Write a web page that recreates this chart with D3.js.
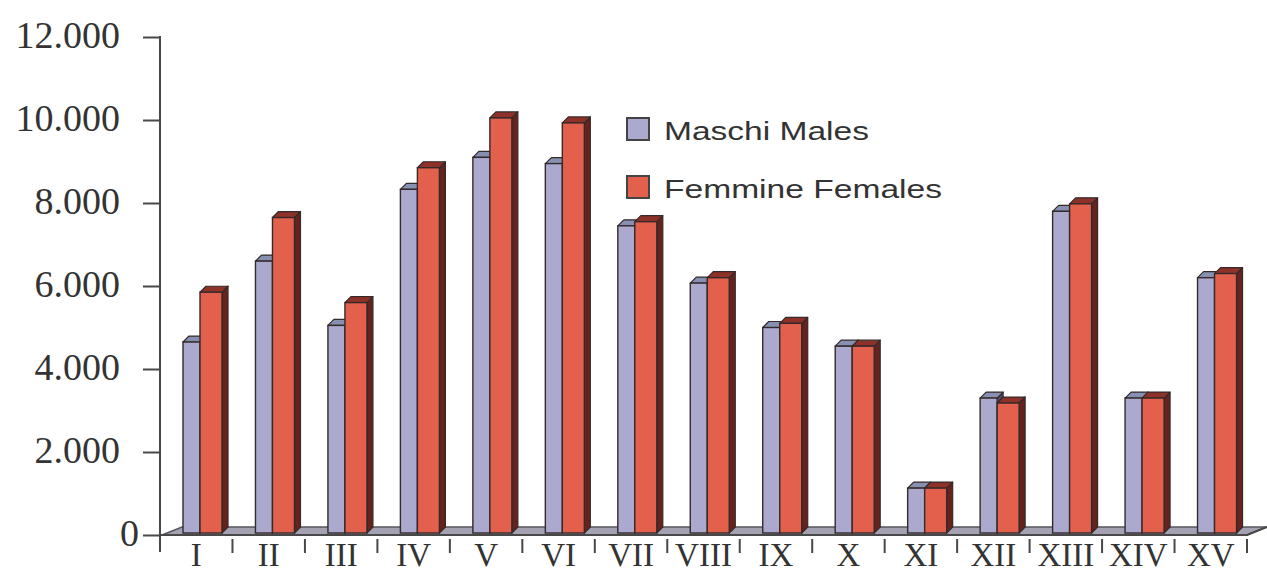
<!DOCTYPE html>
<html>
<head>
<meta charset="utf-8">
<script src="https://cdn.jsdelivr.net/npm/d3@7"></script>
<style>
  html, body { margin: 0; padding: 0; background: #fff; }
  svg { display: block; }
</style>
</head>
<body>
<script>
const categories = ["I","II","III","IV","V","VI","VII","VIII","IX","X","XI","XII","XIII","XIV","XV"];
const males   = [4650, 6600, 5050, 8330, 9100, 8950, 7450, 6070, 5000, 4550, 1130, 3300, 7800, 3300, 6200];
const females = [5850, 7650, 5600, 8850, 10050, 9930, 7550, 6200, 5100, 4550, 1130, 3180, 7980, 3300, 6300];
const yTicks = [0, 2000, 4000, 6000, 8000, 10000, 12000];
const yTickLabels = ["0", "2.000", "4.000", "6.000", "8.000", "10.000", "12.000"];
const seriesNames = ["Maschi Males", "Femmine Females"];

const W = 1267, H = 573;
const svg = d3.select("body").append("svg").attr("width", W).attr("height", H);

const x = d3.scaleBand().domain(categories).range([160, 1247]).padding(0);
const y = d3.scaleLinear().domain([0, 12000]).range([535, 37]);

const DX = 6, DY = -6;
const axisColor = "#484848";
const outline = "#342a2a";

// floor
const x0 = x.range()[0], x1 = x.range()[1], yb = y(0);
svg.append("path")
  .attr("d", `M${x0 + 2},${yb} L${x1},${yb} L${x1 + 20},${yb - 8} L${x0 + 22},${yb - 8} Z`)
  .attr("fill", "#a4a2b2").attr("stroke", "#55555f").attr("stroke-width", 1.4);

// y axis
const yAxis = d3.axisLeft(y).tickValues(yTicks).tickSize(17).tickFormat("");
const gy = svg.append("g").attr("transform", `translate(${x0},0)`).call(yAxis);
gy.select(".domain").remove();
gy.selectAll(".tick line").attr("stroke", axisColor).attr("stroke-width", 2);
svg.append("line").attr("x1", x0).attr("x2", x0).attr("y1", y(12000) - 1).attr("y2", 552)
  .attr("stroke", axisColor).attr("stroke-width", 2);
svg.append("g").selectAll("text").data(yTicks).join("text")
  .attr("x", d => d === 0 ? 139 : 120)
  .attr("y", d => y(d) + 11)
  .attr("text-anchor", "end")
  .attr("font-family", "'Liberation Serif', 'Times New Roman', serif")
  .attr("font-size", 38)
  .attr("fill", "#333")
  .text((d, i) => yTickLabels[i]);

// x axis line
svg.append("path")
  .attr("d", `M${x0},${yb} L${x1},${yb} L${x1 + 20},${yb - 8}`)
  .attr("fill", "none").attr("stroke", axisColor).attr("stroke-width", 2);
// x ticks at band boundaries
const boundaries = categories.map(c => x(c) + x.bandwidth());
svg.append("g").selectAll("line").data(boundaries).join("line")
  .attr("x1", d => d).attr("x2", d => d)
  .attr("y1", yb + 4).attr("y2", yb + 18)
  .attr("stroke", axisColor).attr("stroke-width", 2);
// x labels
svg.append("g").selectAll("text").data(categories).join("text")
  .attr("x", d => x(d) + x.bandwidth() / 2)
  .attr("y", 566)
  .attr("text-anchor", "middle")
  .attr("font-family", "'Liberation Serif', 'Times New Roman', serif")
  .attr("font-size", 33)
  .attr("fill", "#333")
  .text(d => d);

// 3D bars
const styles = [
  { front: "#aca9cf", top: "#8790b0", side: "#4d4b63", off: 23, w: 17 },
  { front: "#e3604d", top: "#8e3229", side: "#66231e", off: 40, w: 22 }
];
const bottom = yb - 2;
categories.forEach((c, i) => {
  const g = svg.append("g");
  [males[i], females[i]].forEach((v, s) => {
    const st = styles[s];
    const xl = x(c) + st.off, xr = xl + st.w, yt = y(v);
    g.append("path")
      .attr("d", `M${xr},${yt} L${xr + DX},${yt + DY} L${xr + DX},${bottom + DY} L${xr},${bottom} Z`)
      .attr("fill", st.side).attr("stroke", outline).attr("stroke-width", 1.2).attr("stroke-linejoin", "round");
    g.append("path")
      .attr("d", `M${xl},${yt} L${xr},${yt} L${xr + DX},${yt + DY} L${xl + DX},${yt + DY} Z`)
      .attr("fill", st.top).attr("stroke", outline).attr("stroke-width", 1.2).attr("stroke-linejoin", "round");
    g.append("rect")
      .attr("x", xl).attr("y", yt).attr("width", st.w).attr("height", bottom - yt)
      .attr("fill", st.front).attr("stroke", outline).attr("stroke-width", 1.4);
  });
});

// legend
const leg = svg.append("g");
seriesNames.forEach((name, i) => {
  const ly = 118 + i * 58;
  leg.append("rect").attr("x", 627).attr("y", ly).attr("width", 22).attr("height", 22)
    .attr("fill", styles[i].front).attr("stroke", "#444").attr("stroke-width", 2);
  leg.append("text")
    .attr("x", 664).attr("y", ly + 22)
    .attr("font-family", "'Liberation Sans', Arial, sans-serif")
    .attr("font-size", 26)
    .attr("fill", "#333")
    .attr("textLength", i === 0 ? 205 : 278)
    .attr("lengthAdjust", "spacingAndGlyphs")
    .text(name);
});
</script>
</body>
</html>
